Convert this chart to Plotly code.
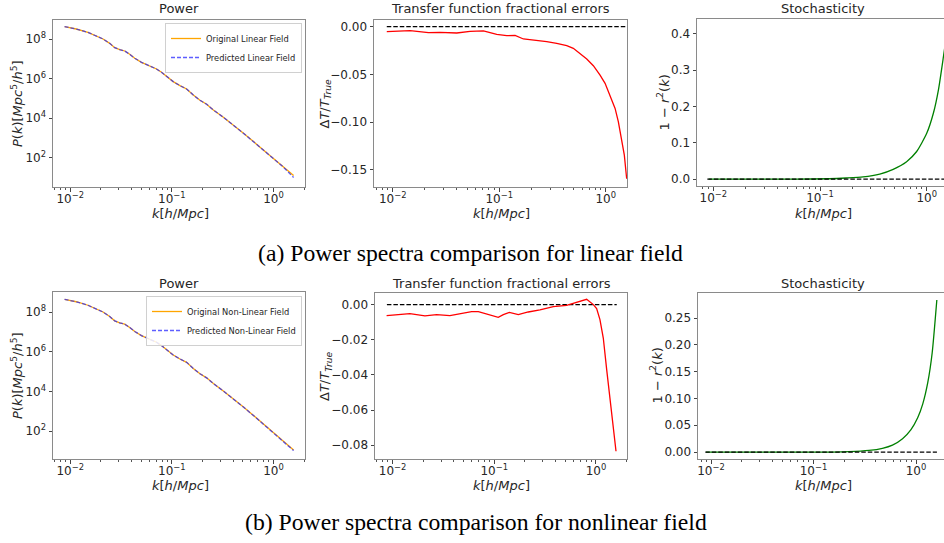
import plotly.graph_objects as go

# ---------------- data ----------------
k_pow = [0.00879, 0.01145, 0.01493, 0.01804, 0.02100, 0.02443, 0.02737, 0.03067, 0.03436,
         0.03849, 0.04312, 0.05018, 0.06064, 0.07058, 0.07907, 0.09201, 0.1030, 0.1200,
         0.1396, 0.1624, 0.1890, 0.2199, 0.2559, 0.3210, 0.4031, 0.5061, 0.6353, 0.7972,
         1.000, 1.256, 1.577]
p_orig_lin = [4.198e8, 3.199e8, 2.173e8, 1.472e8, 1.0e8, 6.039e7, 3.648e7, 2.891e7, 2.477e7,
              1.683e7, 1.057e7, 6.637e6, 4.498e6, 3.055e6, 2.075e6, 1.114e6, 7.0e5, 4.395e5,
              2.985e5, 1.486e5, 7.98e4, 5.01e4, 2.594e4, 1.107e4, 4.539e3, 1.722e3, 653,
              248, 94.0, 35.6, 12.5]
p_pred_lin = [4.198e8, 3.199e8, 2.173e8, 1.472e8, 1.0e8, 6.039e7, 3.648e7, 2.891e7, 2.477e7,
              1.683e7, 1.057e7, 6.637e6, 4.498e6, 3.055e6, 2.075e6, 1.114e6, 7.0e5, 4.395e5,
              2.985e5, 1.486e5, 7.98e4, 5.01e4, 2.594e4, 1.107e4, 4.53e3, 1.71e3, 645,
              243, 90.0, 33.0, 10.0]
p_orig_nl = [4.37e8, 3.3e8, 2.2e8, 1.48e8, 1.0e8, 6.0e7, 3.6e7, 2.85e7, 2.45e7,
             1.66e7, 1.04e7, 6.5e6, 4.4e6, 3.0e6, 2.03e6, 1.09e6, 6.85e5, 4.3e5,
             2.9e5, 1.44e5, 7.7e4, 4.8e4, 2.48e4, 1.05e4, 4.3e3, 1.62e3, 610,
             228, 85.0, 32.0, 11.0]
p_pred_nl = [4.37e8, 3.3e8, 2.2e8, 1.48e8, 1.0e8, 6.0e7, 3.6e7, 2.85e7, 2.45e7,
             1.66e7, 1.04e7, 6.5e6, 4.4e6, 3.0e6, 2.03e6, 1.09e6, 6.85e5, 4.3e5,
             2.9e5, 1.44e5, 7.7e4, 4.8e4, 2.48e4, 1.05e4, 4.29e3, 1.61e3, 605,
             225, 83.0, 31.0, 10.3]

k_tf_lin = [0.00879, 0.01456, 0.02163, 0.0278, 0.0399, 0.0532, 0.0710, 0.0948, 0.1175, 0.1409,
            0.1687, 0.2249, 0.2793, 0.3467, 0.4305, 0.4966, 0.5741, 0.6637, 0.7656, 0.8851,
            0.9863, 1.099, 1.225, 1.315, 1.413, 1.496, 1.574]
tf_lin = [-0.0052, -0.0042, -0.0063, -0.0059, -0.0066, -0.0049, -0.0045, -0.0080, -0.0094, -0.0091,
          -0.0129, -0.0143, -0.0157, -0.0175, -0.0199, -0.0227, -0.0280, -0.0339, -0.0409, -0.0507,
          -0.0594, -0.0717, -0.0857, -0.0997, -0.1171, -0.1346, -0.1594]

k_tf_nl = [0.00873, 0.01479, 0.0208, 0.0271, 0.0366, 0.0478, 0.0598, 0.0697, 0.0873, 0.1094,
           0.1227, 0.1406, 0.1722, 0.2158, 0.2812, 0.3802, 0.5140, 0.6457, 0.8091, 0.9418,
           1.015, 1.094, 1.180, 1.274, 1.374, 1.479, 1.574]
tf_nl = [-0.0063, -0.0051, -0.0064, -0.0057, -0.0063, -0.0051, -0.0040, -0.0040, -0.0057, -0.0072,
         -0.0057, -0.0044, -0.0057, -0.0042, -0.0030, -0.0011, -0.0004, 0.0013, 0.0030, 0.0000,
         -0.0023, -0.0085, -0.0190, -0.0370, -0.0550, -0.0720, -0.0834]

k_st_lin = [0.00904, 0.0594, 0.1225, 0.176, 0.253, 0.363, 0.485, 0.648, 0.805, 1.0,
            1.156, 1.288, 1.436, 1.574]
st_lin = [0.0, 0.0, 0.001, 0.003, 0.006, 0.014, 0.027, 0.048, 0.076, 0.126,
          0.182, 0.246, 0.338, 0.42]

k_st_nl = [0.00893, 0.1514, 0.221, 0.3475, 0.470, 0.589, 0.739, 0.893, 1.038, 1.164,
           1.303, 1.437, 1.596]
st_nl = [0.0, 0.0, 0.0006, 0.003, 0.007, 0.013, 0.025, 0.042, 0.064, 0.090,
         0.130, 0.185, 0.284]

k_ref_lin = [0.00879, 1.70]
k_ref_nl = [0.00879, 1.60]
ref_zero = [0.0, 0.0]

titles = ["Power", "Transfer function fractional errors", "Stochasticity"]
captions = ["(a) Power spectra comparison for linear field",
            "(b) Power spectra comparison for nonlinear field"]
legend_lin = ["Original Linear Field", "Predicted Linear Field"]
legend_nl = ["Original Non-Linear Field", "Predicted Non-Linear Field"]
pow_ticks = [1e2, 1e4, 1e6, 1e8]
pow_ticktext = ["10<sup>2</sup>", "10<sup>4</sup>", "10<sup>6</sup>", "10<sup>8</sup>"]
k_ticks = [0.01, 0.1, 1.0]
k_ticktext = ["10<sup>\u22122</sup>", "10<sup>\u22121</sup>", "10<sup>0</sup>"]

# ---------------- figure ----------------
W, H = 944, 543
FONT = "DejaVu Sans"
TXT = "#262626"
AX = "#8a8a8a"


def fx(p):
    return p / W


def fy(p):
    return 1 - p / H


fig = go.Figure()

orange = "#ffa500"
blue = "rgba(40,40,255,0.75)"
kdash = "4.5px,2px"

# Row 1
fig.add_trace(go.Scatter(x=k_pow, y=p_orig_lin, mode="lines", name=legend_lin[0],
                         line=dict(color=orange, width=1.3), xaxis="x", yaxis="y", legend="legend"))
fig.add_trace(go.Scatter(x=k_pow, y=p_pred_lin, mode="lines", name=legend_lin[1],
                         line=dict(color=blue, width=1.3, dash="4px,2px"), xaxis="x", yaxis="y",
                         legend="legend"))
fig.add_trace(go.Scatter(x=k_ref_lin, y=ref_zero, mode="lines", showlegend=False,
                         line=dict(color="black", width=1.2, dash=kdash), xaxis="x2", yaxis="y2"))
fig.add_trace(go.Scatter(x=k_tf_lin, y=tf_lin, mode="lines", showlegend=False,
                         line=dict(color="red", width=1.3), xaxis="x2", yaxis="y2"))
fig.add_trace(go.Scatter(x=k_st_lin, y=st_lin, mode="lines", showlegend=False,
                         line=dict(color="green", width=1.3, shape="spline", smoothing=0.6),
                         xaxis="x3", yaxis="y3"))
fig.add_trace(go.Scatter(x=k_ref_lin, y=ref_zero, mode="lines", showlegend=False,
                         line=dict(color="black", width=1.2, dash=kdash), xaxis="x3", yaxis="y3"))

# Row 2
fig.add_trace(go.Scatter(x=k_pow, y=p_orig_nl, mode="lines", name=legend_nl[0],
                         line=dict(color=orange, width=1.3), xaxis="x4", yaxis="y4", legend="legend2"))
fig.add_trace(go.Scatter(x=k_pow, y=p_pred_nl, mode="lines", name=legend_nl[1],
                         line=dict(color=blue, width=1.3, dash="4px,2px"), xaxis="x4", yaxis="y4",
                         legend="legend2"))
fig.add_trace(go.Scatter(x=k_ref_nl, y=ref_zero, mode="lines", showlegend=False,
                         line=dict(color="black", width=1.2, dash=kdash), xaxis="x5", yaxis="y5"))
fig.add_trace(go.Scatter(x=k_tf_nl, y=tf_nl, mode="lines", showlegend=False,
                         line=dict(color="red", width=1.3), xaxis="x5", yaxis="y5"))
fig.add_trace(go.Scatter(x=k_st_nl, y=st_nl, mode="lines", showlegend=False,
                         line=dict(color="green", width=1.3, shape="spline", smoothing=0.6),
                         xaxis="x6", yaxis="y6"))
fig.add_trace(go.Scatter(x=k_ref_nl, y=ref_zero, mode="lines", showlegend=False,
                         line=dict(color="black", width=1.2, dash=kdash), xaxis="x6", yaxis="y6"))

# panel geometry (pixels) and ranges
panels = {
    1: dict(px=(53, 305), py=(20, 187), xr=[-2.17, 0.31], yr=[0.52, 8.96], ylog=True, rmirror=True),
    2: dict(px=(374, 627), py=(20, 187), xr=[-2.176, 0.2], yr=[-0.168, 0.007], ylog=False, rmirror=True,
            dy=0.05, yfmt=".2f"),
    3: dict(px=(697, 944), py=(19, 186), xr=[-2.153, 0.162], yr=[-0.019, 0.441], ylog=False, rmirror=False,
            dy=0.1, yfmt=".1f"),
    4: dict(px=(53, 305), py=(292, 459), xr=[-2.17, 0.31], yr=[0.59, 9.01], ylog=True, rmirror=True),
    5: dict(px=(375, 627), py=(293, 459), xr=[-2.173, 0.305], yr=[-0.0878, 0.0066], ylog=False, rmirror=True,
            dy=0.02, yfmt=".2f"),
    6: dict(px=(698, 944), py=(293, 459), xr=[-2.127, 0.273], yr=[-0.013, 0.297], ylog=False, rmirror=False,
            dy=0.05, yfmt=".2f"),
}

minor_vals = [m * 10.0 ** e for e in (-3, -2, -1, 0) for m in range(2, 10)]

layout = dict(
    width=W, height=H, margin=dict(l=0, r=0, t=0, b=0),
    paper_bgcolor="white", plot_bgcolor="white",
    font=dict(family=FONT, size=12, color=TXT),
)

for i, p in panels.items():
    sx = "" if i == 1 else str(i)
    tickfont = dict(family=FONT, size=12, color=TXT)
    xa = dict(
        domain=[fx(p["px"][0]), fx(p["px"][1])], anchor="y" + sx, type="log", range=p["xr"],
        showline=True, linecolor=AX, linewidth=1, mirror=True,
        ticks="outside", ticklen=3.5, tickwidth=0.8, tickcolor="#444",
        tickvals=k_ticks, ticktext=k_ticktext, tickfont=tickfont, ticklabelstandoff=-3,
        showgrid=False, zeroline=False,
        minor=dict(tickvals=minor_vals, ticks="outside", ticklen=2, tickwidth=0.6, tickcolor="#555",
                   showgrid=False),
    )
    ya = dict(
        domain=[fy(p["py"][1]), fy(p["py"][0])], anchor="x" + sx,
        showline=True, linecolor=AX, linewidth=1, mirror=p["rmirror"],
        ticks="outside", ticklen=3.5, tickwidth=0.8, tickcolor="#444",
        tickfont=tickfont, showgrid=False, zeroline=False, range=p["yr"],
    )
    if p["ylog"]:
        ya.update(type="log", tickvals=pow_ticks, ticktext=pow_ticktext)
    else:
        ya.update(tickmode="linear", tick0=0, dtick=p["dy"], tickformat=p["yfmt"])
    layout["xaxis" + sx] = xa
    layout["yaxis" + sx] = ya

legend_style = dict(font=dict(family=FONT, size=8.3, color=TXT), bgcolor="rgba(255,255,255,0.85)",
                    bordercolor="#d0d0d0", borderwidth=1, xanchor="right", yanchor="top",
                    itemwidth=30, tracegroupgap=0)
layout["legend"] = dict(x=fx(302), y=fy(23), **legend_style)
layout["legend2"] = dict(x=fx(302), y=fy(296), **legend_style)

ann = []
# subplot titles
for (cx, cy, t) in [(179, 9, titles[0]), (500.5, 9, titles[1]), (822.7, 9, titles[2]),
                    (179, 283, titles[0]), (501, 283, titles[1]), (822.7, 283, titles[2])]:
    ann.append(dict(x=fx(cx), y=fy(cy), xref="paper", yref="paper", text=t, showarrow=False,
                    xanchor="center", yanchor="middle", font=dict(family=FONT, size=13, color=TXT)))
# x labels
xlab = "<i>k</i>[<i>h</i>/<i>Mpc</i>]"
for (cx, cy) in [(180, 213), (501.7, 213), (823.3, 213), (180, 485), (501.7, 485), (823.3, 485)]:
    ann.append(dict(x=fx(cx), y=fy(cy), xref="paper", yref="paper", text=xlab, showarrow=False,
                    xanchor="center", yanchor="middle", font=dict(family=FONT, size=13, color=TXT)))
# y labels
ylab_pow = "<i>P</i>(<i>k</i>)[<i>Mpc</i><sup>5</sup>/<i>h</i><sup>5</sup>]"
ylab_tf = "\u0394<i>T</i>/<i>T</i><sub><i>True</i></sub>"
ylab_st = "1 \u2212 <i>r</i><sup>2</sup>(<i>k</i>)"
for (cx, cy, t) in [(16.5, 103.5, ylab_pow), (325, 103.5, ylab_tf), (663, 102.5, ylab_st),
                    (16.5, 375.5, ylab_pow), (325, 376, ylab_tf), (656.5, 376, ylab_st)]:
    ann.append(dict(x=fx(cx), y=fy(cy), xref="paper", yref="paper", text=t, showarrow=False,
                    textangle=-90, xanchor="center", yanchor="middle",
                    font=dict(family=FONT, size=13, color=TXT)))
# captions
ann.append(dict(x=fx(470), y=fy(253), xref="paper", yref="paper", text=captions[0], showarrow=False,
                xanchor="center", yanchor="middle",
                font=dict(family="Liberation Serif", size=23.7, color="black")))
ann.append(dict(x=fx(476), y=fy(522), xref="paper", yref="paper", text=captions[1], showarrow=False,
                xanchor="center", yanchor="middle",
                font=dict(family="Liberation Serif", size=23.7, color="black")))
layout["annotations"] = ann

fig.update_layout(**layout)
fig.write_html("out.html", config={"displayModeBar": False},
               post_script="document.body.style.margin='0px';")
